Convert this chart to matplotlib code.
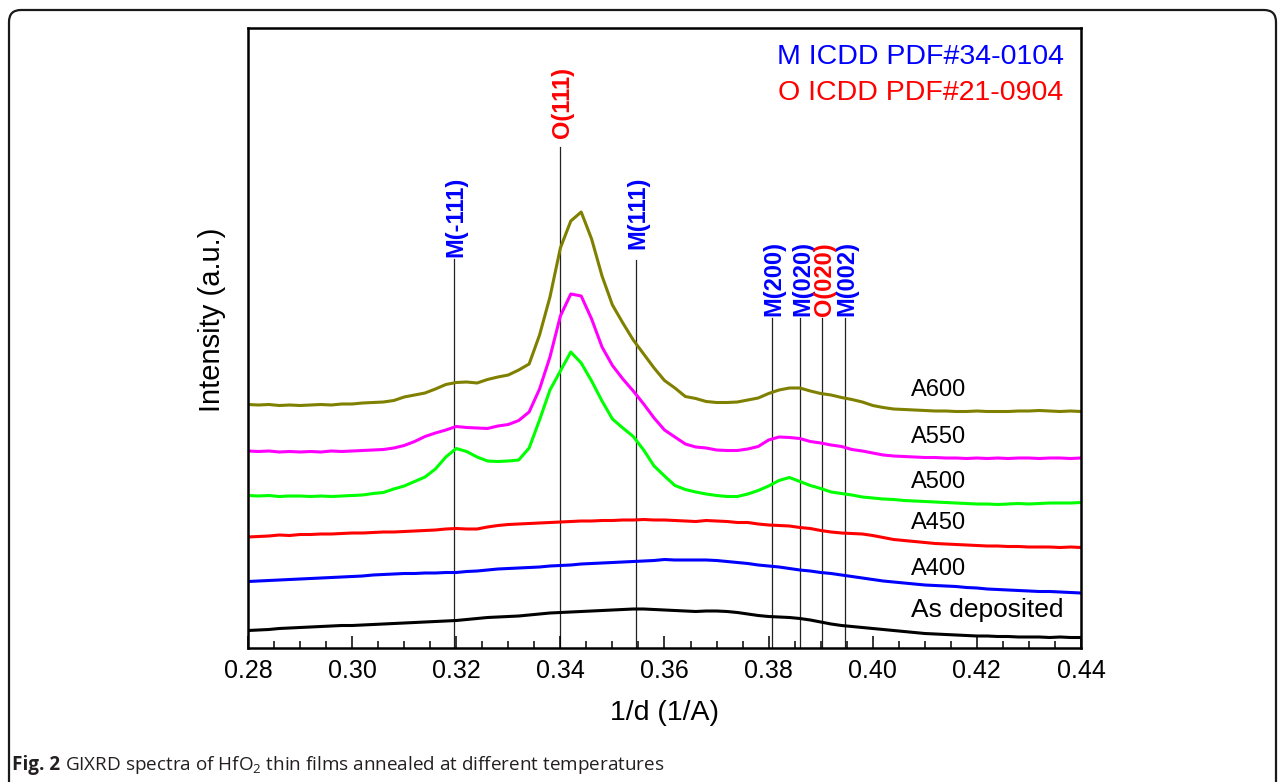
import numpy as np
import matplotlib
matplotlib.use("Agg")
import matplotlib.pyplot as plt
from matplotlib.patches import FancyBboxPatch

plt.rcParams["font.family"] = ["Liberation Sans", "DejaVu Sans"]
plt.rcParams["mathtext.fontset"] = "custom"
plt.rcParams["mathtext.rm"] = "Open Sans"

# scattering vector axis, 1/d in 1/Angstrom
inv_d = np.linspace(0.28, 0.44, 81)

# stacked intensities (a.u.), one trace per annealing condition
as_deposited = [17.5, 18, 18.5, 19.5, 20, 20.5, 21, 21.5, 22, 22.5,
                22.5, 23, 23.5, 24, 24.5, 25, 25.5, 26, 26.5, 27,
                27.5, 28.5, 29.5, 30.5, 31, 31.5, 32, 33, 34, 35,
                35.5, 36, 36.5, 37, 37.5, 38, 38.5, 39, 39, 38.5,
                38, 37.5, 37, 36.5, 37, 37, 36.5, 35.5, 34, 32.5,
                31.5, 31, 30.5, 29.5, 28, 26, 24, 22.5, 21.5, 20.5,
                19.5, 18.5, 17.5, 16.5, 15.5, 14.5, 14, 13.5, 13, 12.5,
                12, 12, 11.5, 11.5, 11, 11, 11, 10.5, 11, 10.5, 10.5]
a400 = [66.5, 67, 67.5, 68, 68.5, 69, 69.5, 70, 70.5, 71,
        71.5, 72, 73, 73.5, 74, 74.5, 74.5, 75, 75, 75.5,
        75.5, 76.5, 77, 78, 79, 79.5, 80, 80.5, 81, 82,
        82.5, 83, 84, 84.5, 85, 85.5, 86, 86.5, 87, 87.5,
        88.5, 88, 88, 88, 88, 87.5, 86.5, 85.5, 84.5, 83,
        82, 81, 79.5, 78, 77, 75.5, 74.5, 73, 71.5, 70,
        68.5, 67, 66, 65, 64, 63, 62.5, 62, 61.5, 60.5,
        60, 59, 58.5, 58, 57.5, 57, 56.5, 56.5, 56, 55.5, 55]
a450 = [111, 111.5, 112, 113, 112.5, 113.5, 113.5, 114, 114, 114.5,
        115, 115, 115.5, 116, 116, 116.5, 117, 117.5, 118, 119,
        119.5, 119, 119, 121, 122.5, 123.5, 124, 124.5, 125, 125.5,
        126, 126.5, 127, 127, 127.5, 127.5, 128, 128, 128.5, 128,
        128, 127.5, 127, 126.5, 127.5, 127, 126.5, 125.5, 125.5, 124,
        123, 122.5, 122, 120.5, 119.5, 117.5, 116, 115, 114.5, 114,
        112.5, 110.5, 108.5, 107.5, 106.5, 105.5, 104.5, 104, 103.5, 103,
        102.5, 102, 102, 101.5, 101.5, 101, 101, 101, 100.5, 101, 100.5]
a500 = [152.5, 152, 152.5, 151.5, 152, 152, 151.5, 152, 151.5, 152,
        152.5, 153, 154.5, 155.5, 159, 162, 166.5, 171, 179, 191,
        199.5, 196.5, 191, 187, 186.5, 187, 188, 200, 228, 258,
        277, 296, 285, 267, 247, 229, 220, 211.5, 198, 182,
        172, 162.5, 158.5, 156, 154, 152.5, 151.5, 151.5, 154, 157.5,
        162, 167.5, 170.5, 166.5, 162.5, 159.5, 156, 154.5, 153, 151,
        150, 149, 148.5, 147.5, 147, 146.5, 146, 145.5, 145, 144.5,
        144, 144, 143.5, 144, 144.5, 144, 144.5, 145, 145, 145, 145.5]
a550 = [197, 196.5, 197, 196, 196.5, 196, 196.5, 196, 197, 196.5,
        197, 197.5, 198, 198.5, 200, 202.5, 206.5, 211.5, 215, 218,
        221.5, 220.5, 220, 219.5, 222, 223.5, 227.5, 236, 259, 291,
        332, 354, 352, 329, 301, 282.5, 269, 257, 244, 230,
        218, 211, 204, 201, 200, 198, 197.5, 197.5, 199, 201.5,
        208, 211, 210.5, 209.5, 206.5, 205, 203, 201.5, 198.5, 197,
        195, 193, 192, 191.5, 191, 190.5, 190.5, 190, 190, 189.5,
        190, 189.5, 190, 189.5, 190, 190, 189.5, 190, 190, 189.5, 190]
a600 = [243.5, 243, 243.5, 242.5, 243, 242.5, 243, 243.5, 243, 244,
        244, 245, 245.5, 246, 247.5, 251, 253, 255, 259, 263.5,
        265.5, 266, 265, 268.5, 271, 273, 278, 284, 313, 351,
        400, 427, 436, 409, 372, 343, 325, 308, 294, 280,
        267.5, 260, 251.5, 249.5, 246.5, 245.5, 245.5, 246, 248, 250,
        254.5, 258, 260, 260, 257, 254.5, 253, 250.5, 248.5, 246,
        242.5, 240.5, 239, 238.5, 238, 237.5, 237, 237, 236.5, 236.5,
        237, 236.5, 236.5, 236.5, 237, 237, 237.5, 237, 236.5, 237, 236.5]

series_names = ["As deposited", "A400", "A450", "A500", "A550", "A600"]
series_values = [as_deposited, a400, a450, a500, a550, a600]
series_colors = ["#000000", "#0000ff", "#ff0000", "#00ff00", "#ff00ff", "#808000"]

# ICDD reference reflections (1/d)
peak_names = ["M(-111)", "O(111)", "M(111)", "M(200)", "M(020)", "O(020)", "M(002)"]
peak_pos = [0.3195, 0.3400, 0.3545, 0.3806, 0.3861, 0.3903, 0.3947]

x_ticks = [0.28, 0.30, 0.32, 0.34, 0.36, 0.38, 0.40, 0.42, 0.44]

fig = plt.figure(figsize=(12.84, 7.82), dpi=100)
ax = fig.add_axes([248 / 1284, 1 - 648 / 782, 833 / 1284, 620 / 782])

for name, vals, col in zip(series_names, series_values, series_colors):
    ax.plot(inv_d, vals, color=col, lw=2.2, solid_joinstyle="round")

# reference markers and their labels
line_tops = [389, 501, 388, 330, 330, 330, 330]
label_gaps = [2, 9, 11, 2, 2, 2, 2]
for name, pos, top, gap in zip(peak_names, peak_pos, line_tops, label_gaps):
    col = "#0000ff" if name.startswith("M") else "#ff0000"
    ax.plot([pos, pos], [0, top], color="#222222", lw=0.9, zorder=1)
    ax.text(pos + 0.0004, top + gap, name, rotation=90, ha="center", va="bottom",
            color=col, fontsize=17, fontweight="bold")

# curve labels
label_heights = [38, 79, 125, 166, 211, 258]
for name, h in zip(series_names, label_heights):
    fs = 19 if name == "As deposited" else 17
    ax.text(0.4073, h, name, ha="left", va="center", fontsize=fs)

ax.text(0.979, 0.953, "M ICDD PDF#34-0104", transform=ax.transAxes,
        ha="right", va="center", fontsize=20.5, color="#0000ff")
ax.text(0.979, 0.895, "O ICDD PDF#21-0904", transform=ax.transAxes,
        ha="right", va="center", fontsize=20.5, color="#ff0000")

ax.set_xlim(0.28, 0.44)
ax.set_ylim(0, 620)
ax.set_xticks(x_ticks)
ax.set_xticklabels([f"{t:.2f}" for t in x_ticks])
ax.set_xticks(np.arange(0.285, 0.44, 0.005), minor=True)
ax.set_yticks([])
ax.tick_params(axis="x", which="major", direction="in", length=8.5, width=1.1,
               labelsize=18, pad=8)
ax.tick_params(axis="x", which="minor", direction="in", length=5, width=1.1)
for s in ax.spines.values():
    s.set_linewidth(1.8)

ax.set_xlabel("1/d (1/A)", fontsize=20.5, labelpad=12)
ax.set_ylabel("Intensity (a.u.)", fontsize=21, va="center")
ax.yaxis.set_label_coords(-0.043, 0.53)

# outer panel frame
frame = FancyBboxPatch((0.09, -0.2), 12.67, 7.92,
                       boxstyle="round,pad=0,rounding_size=0.12",
                       transform=fig.dpi_scale_trans, fill=False,
                       edgecolor="#1a1a1a", lw=1.6, clip_on=False)
fig.patches.append(frame)

# caption
cap_y = 1 - 765 / 782
cap_font = ["Open Sans", "DejaVu Sans"]
t1 = fig.text(12 / 1284, cap_y, "Fig. 2", fontsize=13.6, fontweight="bold",
              family=cap_font, color="#231f20", va="center")
fig.canvas.draw()
bb = t1.get_window_extent(fig.canvas.get_renderer())
fig.text(bb.x1 / 1284 + 5 / 1284, cap_y,
         r"GIXRD spectra of HfO$\mathregular{_2}$ thin films annealed at different temperatures",
         fontsize=13.6, family=cap_font, color="#231f20", va="center")

fig.savefig("out.png", dpi=100)
